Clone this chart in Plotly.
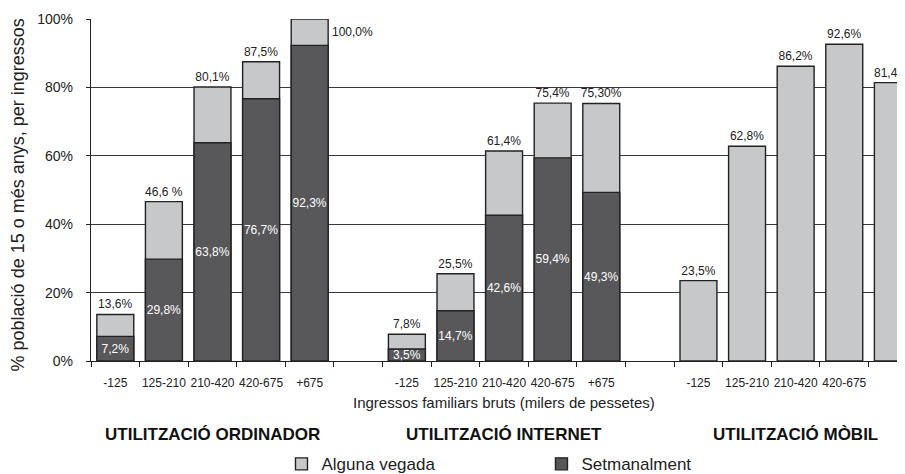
import plotly.graph_objects as go

# trams d'ingressos (milers de pessetes)
income = ["-125", "125-210", "210-420", "420-675", "+675"]
groups = ["UTILITZACIÓ ORDINADOR", "UTILITZACIÓ INTERNET", "UTILITZACIÓ MÒBIL"]

# total (alguna vegada) i setmanalment, en %
ord_total = [13.6, 46.6, 80.1, 87.5, 100.0]
ord_setm = [7.2, 29.8, 63.8, 76.7, 92.3]
int_total = [7.8, 25.5, 61.4, 75.4, 75.3]
int_setm = [3.5, 14.7, 42.6, 59.4, 49.3]
mob_total = [23.5, 62.8, 86.2, 92.6, 81.4]

ord_total_lbl = ["13,6%", "46,6 %", "80,1%", "87,5%", "100,0%"]
int_total_lbl = ["7,8%", "25,5%", "61,4%", "75,4%", "75,30%"]
mob_total_lbl = ["23,5%", "62,8%", "86,2%", "92,6%", "81,4 %"]

LIGHT = "#c7c8ca"
DARK = "#58585b"
SANS = "Liberation Sans, Arial, sans-serif"

# posicions: 5 barres per grup i un buit entre grups
xo = [i for i in range(5)]
xi = [6 + i for i in range(5)]
xm = [12 + i for i in range(5)]

tot_x = xo + xi + xm
tot_y = ord_total + int_total + mob_total
tot_txt = ord_total_lbl + int_total_lbl + mob_total_lbl
# l'etiqueta del 100% va a la dreta de la barra
tot_txt_bar = ["" if v >= 100 else t for v, t in zip(tot_y, tot_txt)]

set_x = xo + xi
set_y = ord_setm + int_setm
set_txt = [f"{v:.1f}%".replace(".", ",") for v in set_y]

fig = go.Figure()
fig.add_trace(go.Bar(
    x=tot_x, y=tot_y, name="Alguna vegada", width=0.76,
    marker=dict(color=LIGHT, line=dict(color="#222", width=1.4)),
    text=tot_txt_bar, textposition="outside", textangle=0,
    textfont=dict(family=SANS, size=12, color="#222"),
    constraintext="none", cliponaxis=False,
))
fig.add_trace(go.Bar(
    x=set_x, y=set_y, name="Setmanalment", width=0.76,
    marker=dict(color=DARK, line=dict(color="#222", width=1.4)),
    text=set_txt, textposition="inside", insidetextanchor="middle", textangle=0,
    textfont=dict(family=SANS, size=12, color="white"),
    constraintext="none",
))

ann = []
for v, t, x in zip(tot_y, tot_txt, tot_x):
    if v >= 100:
        ann.append(dict(x=x + 0.42, y=v, xref="x", yref="y", text=t, showarrow=False,
                        xanchor="left", yanchor="top", yshift=-4,
                        font=dict(family=SANS, size=12, color="#222")))
for g, name in enumerate(groups):
    ann.append(dict(x=g * 6 + 2, y=-0.216, xref="x", yref="paper", text="<b>" + name + "</b>",
                    showarrow=False, xanchor="center", yanchor="middle",
                    font=dict(family=SANS, size=17, color="#111")))
ann.append(dict(x=8, y=-0.12, xref="x", yref="paper",
                text="Ingressos familiars bruts (milers de pessetes)", showarrow=False,
                xanchor="center", yanchor="middle",
                font=dict(family=SANS, size=15, color="#222")))
ann.append(dict(x=-0.0897, y=0.487, xref="paper", yref="paper", textangle=-90,
                text="% població de 15 o més anys, per ingressos", showarrow=False,
                xanchor="center", yanchor="middle",
                font=dict(family=SANS, size=18, color="#222")))

# la pagina te 8px de marge al body: la figura ocupa 897x466
fig.update_layout(
    width=897, height=466,
    margin=dict(l=83, r=0, t=11, b=113, autoexpand=False),
    paper_bgcolor="white", plot_bgcolor="white",
    barmode="overlay",
    uniformtext=dict(minsize=12, mode="show"),
    annotations=ann,
    legend=dict(orientation="h", x=0.234, y=-0.302, xanchor="left", yanchor="middle",
                entrywidth=215, font=dict(family=SANS, size=17, color="#222")),
    xaxis=dict(range=[-0.5, 16.25], tickvals=tot_x, ticktext=income * 3, ticks="",
               tickangle=0, ticklabelstandoff=11, automargin=False,
               tickfont=dict(family=SANS, size=12, color="#222"),
               showgrid=False, zeroline=False, showline=True, linecolor="#222", linewidth=1,
               minor=dict(tick0=-0.5, dtick=1, ticks="outside", ticklen=5, tickcolor="#222")),
    yaxis=dict(range=[0, 100], tickvals=[0, 20, 40, 60, 80, 100],
               ticktext=["0%", "20%", "40%", "60%", "80%", "100%"],
               ticks="outside", ticklen=4, tickcolor="#222", ticklabelstandoff=10,
               automargin=False,
               tickfont=dict(family=SANS, size=14, color="#222"),
               showgrid=True, gridcolor="#3a3a3a", gridwidth=1.3, zeroline=False,
               showline=True, linecolor="#222", linewidth=1.3),
)

fig.write_html("out.html")
